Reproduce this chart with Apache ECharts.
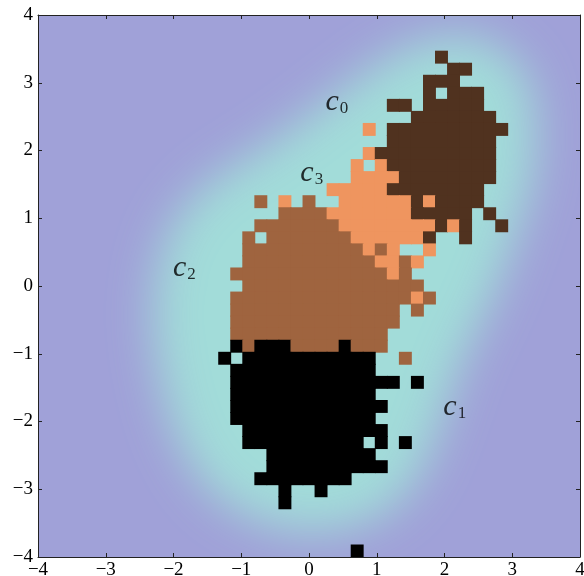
<!DOCTYPE html>
<html>
<head>
<meta charset="utf-8">
<script src="https://cdn.jsdelivr.net/npm/echarts@6/dist/echarts.min.js"></script>
<style>
  html, body { margin: 0; padding: 0; background: #ffffff; }
  #chart { width: 584px; height: 576px; }
</style>
</head>
<body>
<div id="chart"></div>
<script>
// Plane extent and tick positions
const axisMin = -4;
const axisMax = 4;
const tickStep = 1;

// Occupancy grid: 45 x 45 bins across [-4, 4] on both axes
const cellsPerSide = 45;

// Cluster ids and their colours (copper ramp)
const clusterNames = ['0', '1', '2', '3'];
const clusterColors = ['#50321F', '#000000', '#9F643F', '#EF955F'];

// Occupied bins as runs: [row from top, first column, last column, cluster]
const cellRuns = [
  [3, 33, 33, 0],
  [4, 34, 35, 0],
  [5, 32, 34, 0],
  [6, 32, 32, 0], [6, 34, 36, 0],
  [7, 29, 30, 0], [7, 32, 36, 0],
  [8, 31, 37, 0],
  [9, 27, 27, 3], [9, 29, 38, 0],
  [10, 29, 37, 0],
  [11, 27, 27, 3], [11, 28, 37, 0],
  [12, 26, 26, 3], [12, 28, 28, 3], [12, 29, 37, 0],
  [13, 26, 29, 3], [13, 30, 37, 0],
  [14, 24, 28, 3], [14, 29, 36, 0],
  [15, 18, 18, 2], [15, 20, 20, 3], [15, 22, 22, 2], [15, 25, 30, 3], [15, 31, 31, 0], [15, 32, 32, 3], [15, 33, 36, 0],
  [16, 20, 23, 2], [16, 24, 30, 3], [16, 31, 35, 0], [16, 37, 37, 0],
  [17, 18, 24, 2], [17, 25, 32, 3], [17, 33, 33, 0], [17, 34, 34, 3], [17, 35, 35, 0], [17, 38, 38, 0],
  [18, 17, 17, 2], [18, 19, 25, 2], [18, 26, 31, 3], [18, 32, 32, 0], [18, 35, 35, 0],
  [19, 17, 26, 2], [19, 27, 27, 3], [19, 28, 28, 2], [19, 29, 29, 3], [19, 32, 32, 3],
  [20, 17, 27, 2], [20, 28, 29, 3], [20, 30, 30, 2], [20, 31, 31, 3],
  [21, 16, 28, 2], [21, 29, 29, 3], [21, 30, 30, 2],
  [22, 17, 31, 2],
  [23, 16, 30, 2], [23, 31, 31, 3], [23, 32, 32, 2],
  [24, 16, 29, 2], [24, 31, 31, 2],
  [25, 16, 29, 2],
  [26, 16, 28, 2],
  [27, 16, 16, 1], [27, 17, 17, 2], [27, 18, 20, 1], [27, 21, 24, 2], [27, 25, 25, 1], [27, 26, 28, 2],
  [28, 15, 15, 1], [28, 17, 27, 1], [28, 30, 30, 2],
  [29, 16, 27, 1],
  [30, 16, 29, 1], [30, 31, 31, 1],
  [31, 16, 27, 1],
  [32, 16, 28, 1],
  [33, 16, 27, 1],
  [34, 17, 28, 1],
  [35, 17, 26, 1], [35, 28, 28, 1], [35, 30, 30, 1],
  [36, 19, 27, 1],
  [37, 19, 28, 1],
  [38, 18, 25, 1],
  [39, 20, 20, 1], [39, 23, 23, 1],
  [40, 20, 20, 1],
  [44, 26, 26, 1]
];

// Cluster name anchors (left edge / baseline of the label)
const labelAnchors = [[0.25, 2.58], [1.99, -1.93], [-2.0, 0.12], [-0.12, 1.53]];

// Half-level contour of the mixture density (high region inside)
const glowOutline = [
  [2.3, 3.7], [2.9, 3.45], [3.25, 3.0], [3.35, 2.3], [3.3, 1.6], [3.1, 0.9],
  [2.85, 0.2], [2.55, -0.5], [2.3, -1.0], [2.05, -1.7], [1.8, -2.4], [1.55, -2.9],
  [1.1, -3.35], [0.4, -3.6], [-0.3, -3.6], [-1.0, -3.35], [-1.55, -2.9], [-1.95, -2.2],
  [-2.2, -1.3], [-2.3, -0.4], [-2.2, 0.4], [-1.95, 1.0], [-1.5, 1.5], [-0.9, 1.9],
  [-0.3, 2.3], [0.3, 2.75], [0.9, 3.2], [1.5, 3.55]
];
const lowDensityColor = '#A0A1D8';
const highDensityColor = '#A2DCD9';

// Expand runs into bin rectangles [x0, y0, x1, y1, cluster]
const binSize = (axisMax - axisMin) / cellsPerSide;
const cellData = [];
cellRuns.forEach(function (run) {
  for (let col = run[1]; col <= run[2]; col++) {
    const x0 = axisMin + col * binSize;
    const yTop = axisMax - run[0] * binSize;
    cellData.push([x0, yTop - binSize, x0 + binSize, yTop, run[3]]);
  }
});

const tickFont = { fontFamily: 'Liberation Serif', fontSize: 19, color: '#000' };
function tickText(v) { return v < 0 ? '\u2212' + (-v) : String(v); }

function valueAxis(position, showLabels, margin) {
  return {
    type: 'value', position: position, min: axisMin, max: axisMax, interval: tickStep, z: 5,
    splitLine: { show: false },
    axisLine: { show: true, onZero: false, lineStyle: { color: '#222', width: 1 } },
    axisTick: { show: true, inside: true, length: 4, lineStyle: { color: '#222', width: 1 } },
    axisLabel: Object.assign({ show: showLabels, margin: margin, formatter: tickText }, tickFont)
  };
}

const SHIFT = 3000; // shape drawn off-canvas so only its blurred shadow lands in the plot
const SEAM = 0.45;  // small overlap so neighbouring bins close up

const chart = echarts.init(document.getElementById('chart'), null, { renderer: 'canvas' });
chart.setOption({
  animation: false,
  backgroundColor: '#ffffff',
  grid: {
    left: 38, top: 15, width: 542, height: 542,
    containLabel: false, outerBoundsMode: 'none',
    show: true, backgroundColor: lowDensityColor, borderWidth: 0
  },
  xAxis: [valueAxis('bottom', true, 4), valueAxis('top', false, 4)],
  yAxis: [valueAxis('left', true, 5), valueAxis('right', false, 5)],
  series: [
    {
      type: 'custom', name: 'density', coordinateSystem: 'cartesian2d', clip: true, silent: true, z: 1,
      data: [[0, 0]],
      renderItem: function (params, api) {
        const pts = glowOutline.map(function (p) { const c = api.coord(p); return [c[0] - SHIFT, c[1]]; });
        return {
          type: 'polygon',
          shape: { points: pts, smooth: 0.35 },
          style: { fill: highDensityColor, shadowBlur: 46, shadowColor: highDensityColor, shadowOffsetX: SHIFT, shadowOffsetY: 0 }
        };
      }
    },
    {
      type: 'custom', name: 'bins', coordinateSystem: 'cartesian2d', clip: true, silent: true, z: 2,
      encode: { x: [0, 2], y: [1, 3] },
      data: cellData,
      renderItem: function (params, api) {
        const a = api.coord([api.value(0), api.value(3)]);
        const b = api.coord([api.value(2), api.value(1)]);
        return {
          type: 'rect',
          shape: { x: a[0] - SEAM, y: a[1] - SEAM, width: b[0] - a[0] + 2 * SEAM, height: b[1] - a[1] + 2 * SEAM },
          style: { fill: clusterColors[api.value(4)] }
        };
      }
    },
    {
      type: 'scatter', name: 'names', silent: true, z: 4, symbolSize: 1,
      itemStyle: { color: 'rgba(0,0,0,0)' },
      data: labelAnchors.map(function (p, i) { return { value: p, name: clusterNames[i] }; }),
      label: {
        show: true, position: [0, 6], align: 'left', verticalAlign: 'bottom',
        formatter: function (p) { return '{c|c}{s|' + p.name + '}'; },
        rich: {
          c: { fontFamily: 'Liberation Serif', fontStyle: 'italic', fontSize: 30, color: '#000', lineHeight: 30, verticalAlign: 'bottom' },
          s: { fontFamily: 'Liberation Serif', fontSize: 17, color: '#000', lineHeight: 14, verticalAlign: 'bottom', padding: [0, 0, 0, 1] }
        }
      }
    }
  ]
});
</script>
</body>
</html>
